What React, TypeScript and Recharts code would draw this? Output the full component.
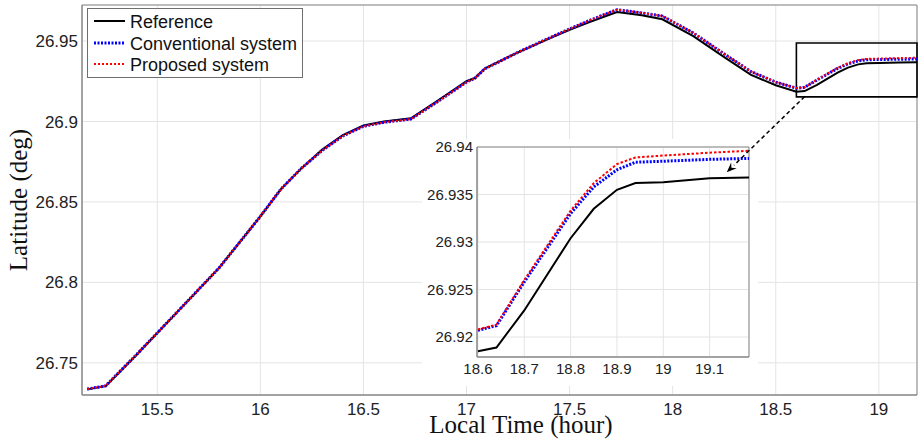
import React from 'react';
import {
  LineChart, Line, XAxis, YAxis, CartesianGrid, ReferenceArea, ReferenceLine, Legend, Label,
} from 'recharts';

const times = [
  15.16, 15.25, 15.4, 15.6, 15.8, 16.0, 16.1, 16.2, 16.3, 16.4, 16.5, 16.6, 16.73, 16.85,
  17.0, 17.04, 17.09, 17.25, 17.4, 17.5, 17.6, 17.73, 17.85, 17.95, 18.1, 18.25, 18.38, 18.5,
  18.6, 18.64, 18.7, 18.8, 18.85, 18.9, 18.94, 19.0, 19.1, 19.185,
];
const referenceLat = [
  26.7335, 26.7355, 26.755, 26.782, 26.809, 26.841, 26.858, 26.871, 26.8825, 26.8915, 26.8975, 26.9, 26.902, 26.912,
  26.925, 26.927, 26.933, 26.943, 26.9515, 26.957, 26.962, 26.968, 26.966, 26.9635, 26.953, 26.94, 26.929, 26.9225,
  26.9185, 26.9189, 26.9228, 26.9304, 26.9335, 26.9355, 26.9362, 26.9363, 26.9367, 26.9368,
];
const conventionalLat = [
  26.7337, 26.7357, 26.7552, 26.782, 26.809, 26.841, 26.858, 26.871, 26.882, 26.891, 26.897, 26.8995, 26.9015, 26.9115,
  26.9245, 26.9268, 26.9328, 26.943, 26.9518, 26.9575, 26.963, 26.9695, 26.9675, 26.9655, 26.955, 26.942, 26.931, 26.9245,
  26.9207, 26.9212, 26.9258, 26.933, 26.9358, 26.9376, 26.9384, 26.9385, 26.9387, 26.9388,
];
const proposedLat = [
  26.7337, 26.7357, 26.7552, 26.782, 26.809, 26.841, 26.858, 26.871, 26.882, 26.891, 26.897, 26.8995, 26.9015, 26.9115,
  26.9245, 26.9268, 26.9328, 26.943, 26.9518, 26.9575, 26.963, 26.9695, 26.9675, 26.9655, 26.955, 26.942, 26.931, 26.9245,
  26.9208, 26.9213, 26.926, 26.9333, 26.9362, 26.9382, 26.9389, 26.9391, 26.9394, 26.9396,
];

const xTicks = [15.5, 16, 16.5, 17, 17.5, 18, 18.5, 19];
const yTicks = [26.75, 26.8, 26.85, 26.9, 26.95];
const insetXTicks = [18.6, 18.7, 18.8, 18.9, 19, 19.1];
const insetYTicks = [26.92, 26.925, 26.93, 26.935, 26.94];

const seriesNames = ['Reference', 'Conventional system', 'Proposed system'];

const xDomain: [number, number] = [15.135, 19.185];
const yDomain: [number, number] = [26.73, 26.9724];
const insetXDomain: [number, number] = [18.598, 19.185];
const insetYDomain: [number, number] = [26.9179, 26.94];

const zoomBox = { x1: 18.6, x2: 19.185, y1: 26.9153, y2: 26.9488 };
const arrowSegment = [{ x: 19.305, y: 26.9453 }, { x: 19.137, y: 26.93734 }];

const data = times.map((t, i) => ({
  t,
  ref: referenceLat[i],
  conv: conventionalLat[i],
  prop: proposedLat[i],
}));
const insetData = data.filter((d) => d.t >= 18.6);

const SANS = '"Liberation Sans", Arial, sans-serif';
const SERIF = '"Liberation Serif", "Times New Roman", serif';

const fmt = (v: number) => String(parseFloat(Number(v).toFixed(4)));

const LegendBox = () => (
  <svg width={216} height={70} style={{ display: 'block' }}>
    <rect x={0.5} y={0.5} width={215} height={69} fill="#fff" stroke="#6f6f6f" />
    <line x1={7} x2={38} y1={13} y2={13} stroke="#000" strokeWidth={2} />
    <line x1={7} x2={38} y1={35} y2={35} stroke="#0000ff" strokeWidth={3} strokeDasharray="2 1.5" />
    <line x1={7} x2={38} y1={56} y2={56} stroke="#ff0000" strokeWidth={2} strokeDasharray="2 2" />
    {seriesNames.map((n, i) => (
      <text key={n} x={43} y={[13, 35, 56][i] + 6.5} fontFamily={SANS} fontSize={18} fill="#111">
        {n}
      </text>
    ))}
  </svg>
);

const Arrow = (p: any) => {
  const { x1, y1, x2, y2 } = p;
  const ang = Math.atan2(y2 - y1, x2 - x1);
  const L = 10;
  const W = 4;
  const bx = x2 - L * Math.cos(ang);
  const by = y2 - L * Math.sin(ang);
  const px = -Math.sin(ang);
  const py = Math.cos(ang);
  return (
    <g>
      <line x1={x1} y1={y1} x2={bx} y2={by} stroke="#000" strokeWidth={1.5} strokeDasharray="4 3" />
      <polygon
        points={`${x2},${y2} ${bx + px * W},${by + py * W} ${bx + 0.35 * L * Math.cos(ang)},${by + 0.35 * L * Math.sin(ang)} ${bx - px * W},${by - py * W}`}
        fill="#000"
      />
    </g>
  );
};

export default function App() {
  return (
    <div style={{ position: 'absolute', left: 0, top: 0, width: 918, height: 444, background: '#fff' }}>
      <div style={{ position: 'absolute', left: 0, top: 0 }}>
        <LineChart width={918} height={444} data={data} margin={{ top: 5, right: 1, left: 0, bottom: 0 }}>
          <CartesianGrid stroke="#e4e4e4" strokeWidth={1} />
          <XAxis
            dataKey="t"
            type="number"
            domain={xDomain}
            allowDataOverflow
            ticks={xTicks}
            tickFormatter={fmt}
            height={49}
            tickLine={false}
            tickSize={0}
            tickMargin={8}
            axisLine={{ stroke: '#888' }}
            tick={{ fontFamily: SANS, fontSize: 17, fill: '#222' }}
          >
            <Label
              content={() => (
                <text x={521} y={433} textAnchor="middle" fontFamily={SERIF} fontSize={25} fill="#111">
                  Local Time (hour)
                </text>
              )}
            />
          </XAxis>
          <YAxis
            type="number"
            domain={yDomain}
            allowDataOverflow
            ticks={yTicks}
            tickFormatter={fmt}
            width={82}
            tickLine={false}
            tickSize={0}
            tickMargin={4}
            axisLine={{ stroke: '#888' }}
            tick={{ fontFamily: SANS, fontSize: 17, fill: '#222' }}
          >
            <Label
              content={() => (
                <text transform="translate(27,200) rotate(-90)" textAnchor="middle" fontFamily={SERIF} fontSize={25} fill="#111">
                  Latitude (deg)
                </text>
              )}
            />
          </YAxis>
          <ReferenceArea x1={xDomain[0]} x2={xDomain[1]} y1={yDomain[0]} y2={yDomain[1]} fill="none" stroke="#888" strokeWidth={1} ifOverflow="visible" />
          <Line type="linear" dataKey="ref" name={seriesNames[0]} stroke="#000" strokeWidth={2} dot={false} activeDot={false} isAnimationActive={false} />
          <Line type="linear" dataKey="conv" name={seriesNames[1]} stroke="#0000ff" strokeWidth={3} strokeDasharray="2 1.5" dot={false} activeDot={false} isAnimationActive={false} />
          <Line type="linear" dataKey="prop" name={seriesNames[2]} stroke="#ff0000" strokeWidth={2} strokeDasharray="2 2" dot={false} activeDot={false} isAnimationActive={false} />
          <ReferenceArea x1={zoomBox.x1} x2={zoomBox.x2} y1={zoomBox.y1} y2={zoomBox.y2} fill="none" stroke="#000" strokeWidth={1.6} ifOverflow="visible" />
          <Legend
            layout="horizontal"
            verticalAlign="middle"
            align="center"
            wrapperStyle={{ left: 87, top: 8, width: 216, height: 70 }}
            content={() => <LegendBox />}
          />
        </LineChart>
      </div>
      <div style={{ position: 'absolute', left: 422, top: 139, width: 336, height: 247, background: '#fff' }} />
      <div style={{ position: 'absolute', left: 420, top: 90 }}>
        <LineChart width={498} height={300} data={insetData} margin={{ top: 57, right: 169, left: 0, bottom: 13 }}>
          <CartesianGrid stroke="#e4e4e4" strokeWidth={1} />
          <XAxis
            dataKey="t"
            type="number"
            domain={insetXDomain}
            allowDataOverflow
            ticks={insetXTicks}
            tickFormatter={fmt}
            height={20}
            tickLine={false}
            tickSize={0}
            tickMargin={6}
            axisLine={{ stroke: '#888' }}
            tick={{ fontFamily: SANS, fontSize: 15, fill: '#222' }}
          />
          <YAxis
            type="number"
            domain={insetYDomain}
            allowDataOverflow
            ticks={insetYTicks}
            tickFormatter={fmt}
            width={57}
            tickLine={false}
            tickSize={0}
            tickMargin={4}
            axisLine={{ stroke: '#888' }}
            tick={{ fontFamily: SANS, fontSize: 15, fill: '#222' }}
          />
          <ReferenceArea x1={insetXDomain[0]} x2={insetXDomain[1]} y1={insetYDomain[0]} y2={insetYDomain[1]} fill="none" stroke="#888" strokeWidth={1} ifOverflow="visible" />
          <Line type="linear" dataKey="ref" stroke="#000" strokeWidth={2} dot={false} activeDot={false} isAnimationActive={false} />
          <Line type="linear" dataKey="conv" stroke="#0000ff" strokeWidth={3} strokeDasharray="2 1.5" dot={false} activeDot={false} isAnimationActive={false} />
          <Line type="linear" dataKey="prop" stroke="#ff0000" strokeWidth={2} strokeDasharray="2.5 2" dot={false} activeDot={false} isAnimationActive={false} />
          <ReferenceLine segment={arrowSegment} ifOverflow="visible" shape={(p: any) => <Arrow {...p} />} />
        </LineChart>
      </div>
    </div>
  );
}
